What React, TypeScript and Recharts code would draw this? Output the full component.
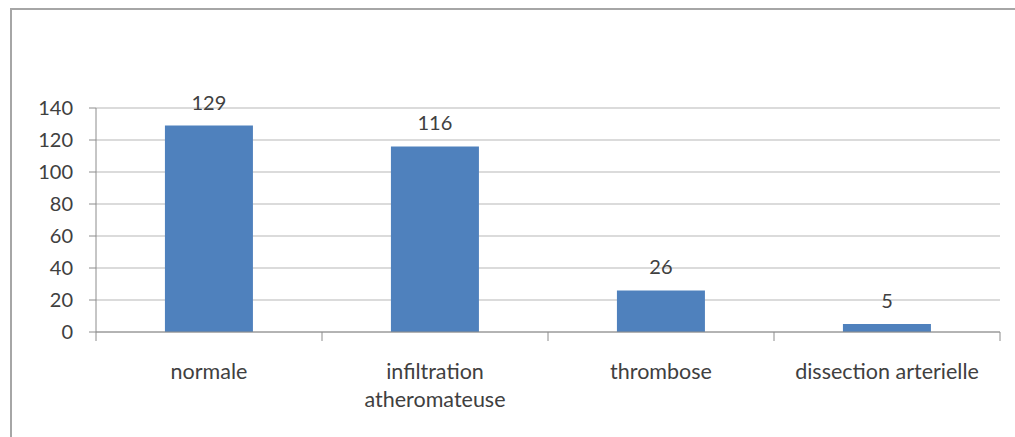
import { BarChart, Bar, XAxis, YAxis, CartesianGrid, LabelList } from 'recharts';

const categories = ['normale', 'infiltration\natheromateuse', 'thrombose', 'dissection arterielle'];
const counts = [129, 116, 26, 5];
const yTicks = [0, 20, 40, 60, 80, 100, 120, 140];

const chartData = categories.map((name, i) => ({ name, value: counts[i] }));

const FONT = 'Lato, "Noto Sans", sans-serif';
const TEXT = '#404040';
const AXIS = '#8c8c8c';
const GRID = '#cfcfcf';
const BAR = '#4f81bd';
const FRAME = '#a6a6a6';

const W = 999;
const H = 429;
const MARGIN = { top: 100, right: 7, bottom: 0, left: 0 };
const Y_AXIS_W = 88;
const PLOT_W = W - MARGIN.left - MARGIN.right - Y_AXIS_W;

// category label centred in the band, tick marks on the band edges (Excel style)
function CategoryTick(props: any) {
  const { x, y, payload, index } = props;
  const half = typeof payload?.offset === 'number' && payload.offset > 0
    ? payload.offset
    : PLOT_W / (2 * categories.length);
  const lines = String(payload.value).split('\n');
  return (
    <g>
      {index === 0 && (
        <line x1={x - half} x2={x - half} y1={y} y2={y + 9} stroke={AXIS} strokeWidth={1} />
      )}
      <line x1={x + half} x2={x + half} y1={y} y2={y + 9} stroke={AXIS} strokeWidth={1} />
      <text x={x} y={y + 47} textAnchor="middle" fill={TEXT} fontSize={21.5} fontFamily={FONT}>
        {lines.map((l, i) => (
          <tspan key={i} x={x} dy={i === 0 ? 0 : 28}>{l}</tspan>
        ))}
      </text>
    </g>
  );
}

export default function App() {
  return (
    <div
      style={{
        position: 'fixed',
        left: 0,
        top: 0,
        width: 1015,
        height: 437,
        overflow: 'hidden',
        background: '#fff',
      }}
    >
      {/* frame: only the top and left edges show in the picture */}
      <div
        style={{
          position: 'absolute',
          left: 10,
          top: 8,
          width: 1010,
          height: 440,
          boxSizing: 'border-box',
          borderTop: `2px solid ${FRAME}`,
          borderLeft: `2px solid ${FRAME}`,
        }}
      />
      <div style={{ position: 'absolute', left: 8, top: 8 }}>
        <BarChart width={W} height={H} data={chartData} margin={MARGIN} barCategoryGap="30.5%">
          <CartesianGrid vertical={false} stroke={GRID} strokeWidth={1.5} />
          <XAxis
            dataKey="name"
            height={105}
            axisLine={{ stroke: AXIS }}
            tickLine={false}
            tickSize={0}
            tickMargin={0}
            interval={0}
            tick={<CategoryTick />}
          />
          <YAxis
            width={Y_AXIS_W}
            domain={[0, 140]}
            ticks={yTicks}
            interval={0}
            axisLine={{ stroke: AXIS }}
            tickLine={{ stroke: AXIS }}
            tickSize={7}
            tickMargin={16}
            tick={{ fill: TEXT, fontSize: 20, fontFamily: FONT }}
          />
          <Bar dataKey="value" fill={BAR} isAnimationActive={false}>
            <LabelList
              dataKey="value"
              position="top"
              offset={16}
              fill={TEXT}
              fontSize={20}
              fontFamily={FONT}
            />
          </Bar>
        </BarChart>
      </div>
    </div>
  );
}
